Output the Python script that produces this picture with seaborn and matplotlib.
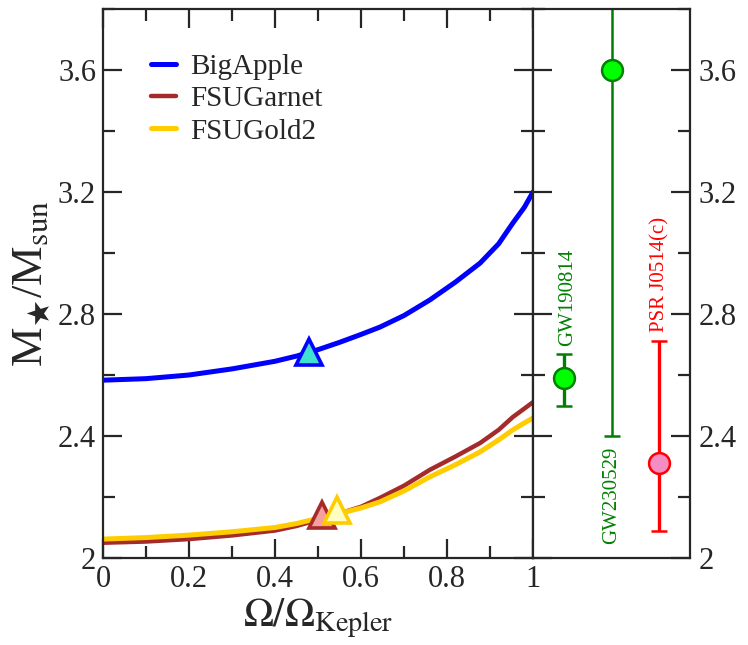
import numpy as np
import pandas as pd
import matplotlib
matplotlib.use("Agg")
import matplotlib.pyplot as plt
import seaborn as sns
from matplotlib.ticker import MultipleLocator, FuncFormatter

# rotation frequency (fraction of Kepler) and max mass curves
omega = [0.0, 0.1, 0.2, 0.3, 0.4, 0.45, 0.5, 0.55, 0.6, 0.644, 0.7, 0.76, 0.82, 0.877, 0.92, 0.953, 0.98, 1.0]
m_bigapple = [2.583, 2.588, 2.600, 2.620, 2.645, 2.662, 2.683, 2.707, 2.733, 2.757, 2.795, 2.846, 2.905, 2.967, 3.030, 3.098, 3.150, 3.200]
m_garnet = [2.050, 2.054, 2.062, 2.074, 2.090, 2.105, 2.125, 2.146, 2.168, 2.197, 2.237, 2.289, 2.333, 2.377, 2.420, 2.462, 2.490, 2.511]
m_gold2 = [2.062, 2.067, 2.075, 2.086, 2.100, 2.113, 2.130, 2.146, 2.164, 2.184, 2.220, 2.266, 2.306, 2.348, 2.387, 2.420, 2.443, 2.459]

models = ["BigApple", "FSUGarnet", "FSUGold2"]
line_colors = ["#0000ff", "#a52a2a", "#ffcc00"]
line_widths = [3.6, 3.2, 3.6]
tri_fill = ["#40e0d0", "#f4a0a0", "#ffffc0"]
tri_x = [0.48, 0.509, 0.544]
tri_y = [2.675, 2.141, 2.157]

# observations
obs_names = ["GW190814", "GW230529", "PSR J0514(c)"]
obs_x = [0.2, 0.5, 0.8]
obs_m = [2.59, 3.6, 2.31]
obs_lo = [0.09, 1.2, 0.22]
obs_hi = [0.08, 0.8, 0.40]

curves = {"BigApple": m_bigapple, "FSUGarnet": m_garnet, "FSUGold2": m_gold2}

sns.set_style("ticks")
plt.rcParams["font.family"] = ["Liberation Serif", "DejaVu Serif"]
plt.rcParams["mathtext.fontset"] = "stix"

fig = plt.figure(figsize=(7.48, 6.45), dpi=100)
ax = fig.add_axes([103/748, 87/645, 430/748, 549/645])
ax2 = fig.add_axes([533/748, 87/645, 157/748, 549/645])

for name, c, w in zip(models, line_colors, line_widths):
    sns.lineplot(x=omega, y=curves[name], color=c, linewidth=w, label=name, ax=ax)

for i in range(3):
    ax.plot(tri_x[i], tri_y[i], marker="^", ms=19, mfc=tri_fill[i],
            mec=line_colors[i], mew=2.6, zorder=5)

ax.set_xlim(0, 1)
ax.set_ylim(2, 3.8)
ax.set_xlabel(r"$\Omega/\Omega_{\rm Kepler}$", fontsize=29, labelpad=2)
ax.set_ylabel(r"M$_\bigstar$/M$_{\rm sun}$", fontsize=32, labelpad=4)

fmt = FuncFormatter(lambda v, p: f"{v:g}")
for a in (ax, ax2):
    a.yaxis.set_major_locator(MultipleLocator(0.4))
    a.yaxis.set_minor_locator(MultipleLocator(0.2))
    a.yaxis.set_major_formatter(fmt)
    for s in a.spines.values():
        s.set_linewidth(1.6)
        s.set_visible(True)

ax.xaxis.set_major_locator(MultipleLocator(0.2))
ax.xaxis.set_minor_locator(MultipleLocator(0.1))
ax.xaxis.set_major_formatter(fmt)
ax.tick_params(which="both", direction="in", top=True, right=True, width=1.6, labelsize=22)
ax.tick_params(which="major", length=14, pad=5)
ax.tick_params(which="minor", length=8.5)

leg = ax.legend(loc="upper left", bbox_to_anchor=(0.085, 0.94), frameon=False,
                fontsize=21, handlelength=0.85, handletextpad=0.5,
                labelspacing=0.2, borderaxespad=0)

# right panel with observational constraints
ax2.set_xlim(0, 1)
ax2.set_ylim(2, 3.8)
ax2.set_xticks([])
ax2.yaxis.tick_right()
ax2.tick_params(which="both", direction="in", left=True, right=True,
                labelleft=False, labelright=True, width=1.6, labelsize=22)
ax2.tick_params(which="major", length=14, pad=6)
ax2.tick_params(which="minor", length=8.5)

ax2.errorbar(obs_x[0], obs_m[0], yerr=[[obs_lo[0]], [obs_hi[0]]], fmt="o",
             color="#008000", ecolor="#008000", mfc="#00ff00", mec="#008000",
             ms=15, mew=1.8, elinewidth=2.4, capsize=5.5, capthick=2.4)
ax2.errorbar(obs_x[1], obs_m[1], yerr=[[obs_lo[1]], [obs_hi[1]]], fmt="o",
             color="#008000", ecolor="#008000", mfc="#00ff00", mec="#008000",
             ms=15, mew=1.8, elinewidth=1.8, capsize=5.5, capthick=1.8)
ax2.errorbar(obs_x[2], obs_m[2], yerr=[[obs_lo[2]], [obs_hi[2]]], fmt="o",
             color="#ff0000", ecolor="#ff0000", mfc="#f58cc4", mec="#ff0000",
             ms=15, mew=1.8, elinewidth=2.4, capsize=5.5, capthick=2.4)

ax2.text(obs_x[0] + 0.02, obs_m[0] + obs_hi[0] + 0.025, obs_names[0], rotation=90,
         ha="center", va="bottom", color="#008000", fontsize=15)
ax2.text(obs_x[1], obs_m[1] - obs_lo[1] - 0.035, obs_names[1], rotation=90,
         ha="center", va="top", color="#008000", fontsize=15)
ax2.text(obs_x[2] + 0.01, obs_m[2] + obs_hi[2] + 0.03, obs_names[2], rotation=90,
         ha="center", va="bottom", color="#ff0000", fontsize=15)

fig.savefig("out.png", dpi=100)
